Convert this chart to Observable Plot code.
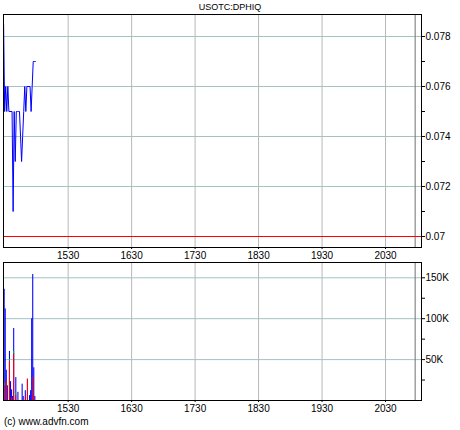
<!DOCTYPE html>
<html>
<head>
<meta charset="utf-8">
<script src="https://cdn.jsdelivr.net/npm/d3@7"></script>
<script src="https://cdn.jsdelivr.net/npm/@observablehq/plot@0.6"></script>
<style>
  html, body { margin: 0; padding: 0; background: #fff; }
  #wrap { position: relative; width: 460px; height: 430px; background: #fff; font-family: "Liberation Sans", Arial, sans-serif; color: #000; overflow: hidden; }
  #title { position: absolute; left: 0; width: 460px; top: 2px; text-align: center; font-size: 9px; z-index: 5; }
  #foot { position: absolute; left: 4px; top: 416px; font-size: 10px; z-index: 5; }
  .p { position: absolute; left: 0; }
</style>
</head>
<body>
<div id="wrap">
  <div id="topPanel" class="p" style="top:0px"></div>
  <div id="botPanel" class="p" style="top:255px"></div>
  <div id="title">USOTC:DPHIQ</div>
  <div id="foot">(c) www.advfn.com</div>
</div>
<script>
// time in minutes since midnight
const startMinute = 869; // 14:29
const priceValues = [0.0785, 0.075, 0.076, 0.075, 0.076, 0.075, 0.075, 0.075, 0.075, 0.071,
  0.075, 0.073, 0.075, 0.075, 0.075, 0.075, 0.074, 0.073, 0.074, 0.075,
  0.076, 0.075, 0.076, 0.076, 0.076, 0.076, 0.075, 0.076, 0.077, 0.077, 0.077];
const prevClose = 0.07;
const volMinuteOffsets = [1, 2, 3, 4, 6, 7, 8, 9, 10, 12, 14, 18, 19, 21, 23, 25, 26, 27, 28, 29, 30];
const volTotal = [136000, 112000, 37000, 18000, 60000, 23000, 13000, 5000, 88000, 28000, 10000, 20000, 5000, 12000, 26000, 6000, 12000, 100000, 154000, 40000, 5000];
const volRed   = [18000, 0, 24000, 0, 48000, 0, 3000, 0, 57000, 6000, 0, 0, 0, 4000, 26000, 0, 0, 0, 28000, 4000, 0];
const volGreen = [3000, 0, 0, 0, 2000, 0, 0, 0, 3000, 3000, 0, 0, 0, 0, 0, 0, 0, 0, 0, 0, 0];
const timeTicks = [930, 990, 1050, 1110, 1170, 1230];
const timeTickLabels = ["1530", "1630", "1730", "1830", "1930", "2030"];
const closeMarker = 1258;
const priceTicks = [0.07, 0.072, 0.074, 0.076, 0.078];
const priceTickLabels = ["0.07", "0.072", "0.074", "0.076", "0.078"];
const priceMinorTicks = [0.071, 0.073, 0.075, 0.077];
const volTicks = [50000, 100000, 150000];
const volTickLabels = ["50K", "100K", "150K"];
const volMinorTicks = [25000, 75000, 125000];

const priceData = priceValues.map((v, i) => ({t: startMinute + i, v}));
const volData = volMinuteOffsets.map((o, i) => ({t: startMinute + o, total: volTotal[i], red: volRed[i], green: volGreen[i]}));

const xDomain = [868.9, 1264];
const font = "Liberation Sans, Arial, sans-serif";
const hGrid = "#a3c2c2";
const vGrid = "#b8b8b8";
const lab = (ticks, labels) => d => labels[ticks.indexOf(d)] ?? "";

const pricePlot = Plot.plot({
  width: 460, height: 262,
  marginLeft: 3, marginRight: 39, marginTop: 14, marginBottom: 15,
  style: {fontFamily: font, fontSize: "10px", background: "transparent", color: "black"},
  x: {domain: xDomain, axis: null},
  y: {domain: [0.06956, 0.07888], axis: null},
  marks: [
    Plot.ruleY(priceTicks.filter(d => d !== prevClose), {stroke: hGrid}),
    Plot.ruleX(timeTicks, {stroke: vGrid}),
    Plot.ruleX([closeMarker], {stroke: "#707070"}),
    Plot.ruleY([prevClose], {stroke: "#ff0000"}),
    Plot.line(priceData, {x: "t", y: "v", stroke: "#0000ff", strokeWidth: 1}),
    Plot.frame({stroke: "black"}),
    Plot.axisY(priceTicks, {anchor: "right", label: null, tickSize: 3, tickPadding: 1, tickFormat: lab(priceTicks, priceTickLabels), fontSize: 10}),
    Plot.axisY(priceMinorTicks, {anchor: "right", label: null, tickSize: 3, tickFormat: () => ""}),
    Plot.axisX(timeTicks, {anchor: "bottom", label: null, tickSize: 2, tickPadding: 2, tickFormat: lab(timeTicks, timeTickLabels), fontSize: 10})
  ]
});
document.getElementById("topPanel").appendChild(pricePlot);

const volPlot = Plot.plot({
  width: 460, height: 175,
  marginLeft: 3, marginRight: 39, marginTop: 7, marginBottom: 30,
  style: {fontFamily: font, fontSize: "10px", background: "transparent", color: "black"},
  x: {domain: xDomain, axis: null},
  y: {domain: [0, 168700], axis: null},
  marks: [
    Plot.ruleY(volTicks, {stroke: hGrid}),
    Plot.ruleX(timeTicks, {stroke: vGrid}),
    Plot.ruleX([closeMarker], {stroke: "#707070"}),
    Plot.rect(volData, {x1: d => d.t - 0.5, x2: d => d.t + 0.5, y1: 0, y2: "total", fill: "#0000ff"}),
    Plot.rect(volData.filter(d => d.red > 0), {x1: d => d.t - 0.5, x2: d => d.t + 0.5, y1: 0, y2: "red", fill: "#ff0000"}),
    Plot.rect(volData.filter(d => d.green > 0), {x1: d => d.t - 0.5, x2: d => d.t + 0.5, y1: "red", y2: d => d.red + d.green, fill: "#00cc00"}),
    Plot.frame({stroke: "black"}),
    Plot.axisY(volTicks, {anchor: "right", label: null, tickSize: 3, tickPadding: 1, tickFormat: lab(volTicks, volTickLabels), fontSize: 10}),
    Plot.axisY(volMinorTicks, {anchor: "right", label: null, tickSize: 3, tickFormat: () => ""}),
    Plot.axisX(timeTicks, {anchor: "bottom", label: null, tickSize: 2, tickPadding: 2, tickFormat: lab(timeTicks, timeTickLabels), fontSize: 10})
  ]
});
document.getElementById("botPanel").appendChild(volPlot);
</script>
</body>
</html>
